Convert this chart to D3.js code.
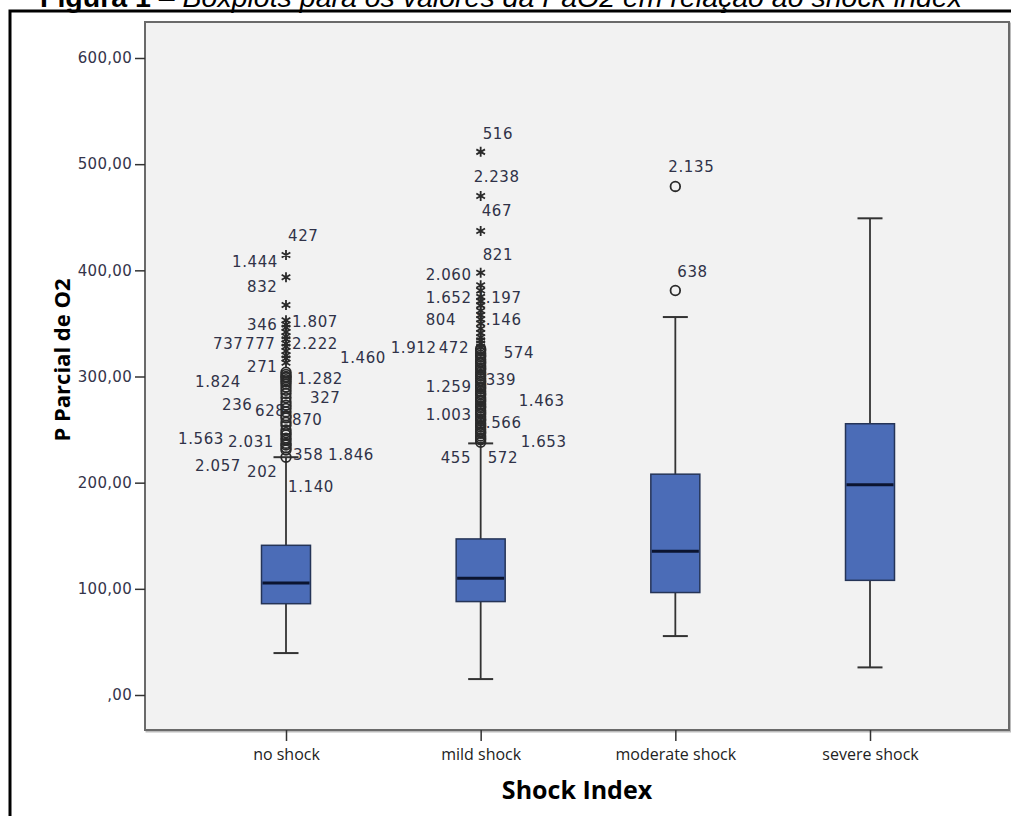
<!DOCTYPE html>
<html>
<head>
<meta charset="utf-8">
<script src="https://cdn.jsdelivr.net/npm/d3@7"></script>
<style>
  body { margin: 0; background: #fff; }
  svg { display: block; }
</style>
</head>
<body>
<div id="chart"></div>
<script>
// categories and box summaries (P Parcial de O2)
const categories = ["no shock", "mild shock", "moderate shock", "severe shock"];
const q1 = [86, 88, 96.5, 108];
const median = [105.5, 110, 135.5, 198];
const q3 = [141, 147, 208, 255.5];
const whiskerLow = [39.5, 15, 55.5, 26];
const whiskerHigh = [224, 237, 356, 449];

// outliers (circles) and extremes (stars)
const noShockCircles = [304, 302, 300, 299, 297, 295, 293, 290, 287, 284, 280, 276, 273, 270, 266.6, 263, 261, 257, 254, 249.6, 247, 245, 242, 240, 237, 235.5, 233, 230.8, 224];
const noShockStars = [414.4, 393.4, 367.3, 353, 349, 346, 342, 338, 335, 331, 328, 324, 320, 317, 313];
const mildCircles = [326, 324.5, 322, 320, 318.5, 316, 314, 312.5, 310, 308, 306.5, 304, 302, 300.5, 298, 296, 294.5, 292, 290, 288.5, 286, 284, 282.5, 280, 278, 276.5, 274, 272, 270.5, 268, 266, 264.5, 262, 260, 258.5, 256, 254, 252.5, 250, 248, 246.5, 244, 242, 240.5, 238];
const mildStars = [511.6, 470, 437, 397.8, 386, 381, 375, 371, 367, 362, 358, 354, 350, 345, 341, 337, 334, 331, 328];
const moderateCircles = [479, 381];

// case-number labels: [text, value]
const noShockLabels = [["427", 431.4], ["1.444", 407.8], ["832", 384.3], ["346", 347.6], ["1.807", 350.4],
  ["737", 329.7], ["777", 329.7], ["2.222", 330.6], ["1.460", 316.5], ["271", 308.9], ["1.824", 293.9],
  ["1.282", 297.6], ["327", 279.7], ["236", 273.1], ["628", 266.6], ["870", 258.1], ["1.563", 240.2],
  ["2.031", 237.4], ["358", 226], ["1.846", 226], ["2.057", 214.8], ["202", 210], ["1.140", 195.9]];
const mildLabels = [["516", 528.4], ["2.238", 487], ["467", 455], ["821", 414.4], ["2.060", 395.6],
  ["1.652", 373.9], ["1.197", 373.9], ["804", 353.2], ["1.146", 353.2], ["1.912", 326.8], ["472", 326.8],
  ["574", 322.1], ["1.259", 290.1], ["339", 296.7], ["1.463", 276.9], ["1.003", 263.7], ["1.566", 256.2],
  ["1.653", 237.4], ["455", 223.2], ["572", 223.2]];
const moderateLabels = [["2.135", 496.8], ["638", 397.6]];

const yTicks = [0, 100, 200, 300, 400, 500, 600];

// horizontal offsets of the labels from their box centre (px)
const noShockDx = [2, -54, -39, -39, 6, -73, -41, 6, 54, -39, -91, 11, 24, -64, -31, 6, -108, -58, 7, 42, -91, -39, 2];
const mildDx = [2, -7, 1, 2, -55, -55, -5, -55, -5, -90, -42, 23, -55, 5, 38, -55, -5, 40, -40, 7];
const moderateDx = [-7, 2];

const W = 1011, H = 816;
const plot = { left: 145, top: 22, right: 1009, bottom: 730 };

const svg = d3.select('#chart').append('svg')
    .attr('width', W)
    .attr('height', H);

// title (cut at the top edge of the picture, as in the source)
const title = svg.append('text')
    .attr('x', 40)
    .attr('y', 7)
    .style('font-family', '"Liberation Sans", Arial, sans-serif')
    .style('font-size', '28.5px')
    .style('fill', '#000');
title.append('tspan').style('font-weight', 'bold').text('Figura 1');
title.append('tspan').text(' – ');
title.append('tspan').style('font-style', 'italic').text('Boxplots para os valores da PaO2 em relação ao shock index');

// outer frame
svg.append('path')
    .attr('d', `M10,${H} V11 H${W}`)
    .attr('fill', 'none')
    .attr('stroke', '#000')
    .attr('stroke-width', 3);

// plot area
svg.append('rect')
    .attr('x', plot.left + 1.5)
    .attr('y', plot.top + 1.5)
    .attr('width', plot.right - plot.left)
    .attr('height', plot.bottom - plot.top)
    .attr('fill', 'none')
    .attr('stroke', '#bbb')
    .attr('stroke-width', 2);
svg.append('rect')
    .attr('x', plot.left)
    .attr('y', plot.top)
    .attr('width', plot.right - plot.left)
    .attr('height', plot.bottom - plot.top)
    .attr('fill', '#f2f2f2')
    .attr('stroke', '#6a6a6a')
    .attr('stroke-width', 2);

const y = d3.scaleLinear().domain([0, 600]).range([695, 58]);
const x = d3.scalePoint().domain(categories).range([286, 870]);

const boxW = 49, capW = 25;

// y axis
const yAxis = svg.append('g')
    .attr('transform', `translate(${plot.left},0)`)
    .call(d3.axisLeft(y).tickValues(yTicks).tickSize(10).tickPadding(3)
        .tickFormat(d => d === 0 ? ',00' : d + ',00'));
yAxis.select('.domain').remove();
yAxis.selectAll('line').attr('stroke', '#333').attr('stroke-width', 1.5);
yAxis.selectAll('text')
    .style('font-family', '"DejaVu Sans", Verdana, sans-serif')
    .style('font-size', '15px')
    .style('letter-spacing', '0.3px')
    .style('fill', '#34344a');

// x axis
const xAxis = svg.append('g')
    .attr('transform', `translate(0,${plot.bottom})`)
    .call(d3.axisBottom(x).tickSize(11).tickPadding(8));
xAxis.select('.domain').remove();
xAxis.selectAll('line').attr('stroke', '#333').attr('stroke-width', 1.5);
xAxis.selectAll('text')
    .style('font-family', '"Open Sans", sans-serif')
    .style('font-size', '16px')
    .style('fill', '#222');

// axis titles
svg.append('text')
    .attr('transform', `translate(64,${360}) rotate(-90)`)
    .attr('text-anchor', 'middle')
    .attr('dominant-baseline', 'middle')
    .style('font-family', '"Open Sans", sans-serif')
    .style('font-weight', 'bold')
    .style('font-size', '22px')
    .text('P Parcial de O2');

svg.append('text')
    .attr('x', (plot.left + plot.right) / 2)
    .attr('y', 799)
    .attr('text-anchor', 'middle')
    .style('font-family', '"Open Sans", sans-serif')
    .style('font-weight', 'bold')
    .style('font-size', '25px')
    .text('Shock Index');

// boxes
const boxes = svg.append('g');
categories.forEach((c, i) => {
    const cx = x(c);
    boxes.append('line')
        .attr('x1', cx).attr('x2', cx)
        .attr('y1', y(whiskerLow[i])).attr('y2', y(whiskerHigh[i]))
        .attr('stroke', '#333').attr('stroke-width', 1.8);
    [whiskerLow[i], whiskerHigh[i]].forEach(v => {
        boxes.append('line')
            .attr('x1', cx - capW / 2).attr('x2', cx + capW / 2)
            .attr('y1', y(v)).attr('y2', y(v))
            .attr('stroke', '#333').attr('stroke-width', 2);
    });
    boxes.append('rect')
        .attr('x', cx - boxW / 2)
        .attr('y', y(q3[i]))
        .attr('width', boxW)
        .attr('height', y(q1[i]) - y(q3[i]))
        .attr('fill', '#4b6cb7')
        .attr('stroke', '#253457')
        .attr('stroke-width', 1.5);
    boxes.append('line')
        .attr('x1', cx - boxW / 2 + 1).attr('x2', cx + boxW / 2 - 1)
        .attr('y1', y(median[i])).attr('y2', y(median[i]))
        .attr('stroke', '#0b1430').attr('stroke-width', 3);
});

// labels (drawn under the markers)
function drawLabels(labels, dx, cat) {
    svg.append('g').selectAll('text')
        .data(labels)
        .enter().append('text')
        .attr('x', (d, i) => x(cat) + dx[i])
        .attr('y', d => y(d[1]))
        .attr('dominant-baseline', 'middle')
        .style('font-family', '"DejaVu Sans", Verdana, sans-serif')
        .style('font-size', '15px')
        .style('letter-spacing', '0.6px')
        .style('fill', '#303248')
        .text(d => d[0]);
}
drawLabels(noShockLabels, noShockDx, 'no shock');
drawLabels(mildLabels, mildDx, 'mild shock');
drawLabels(moderateLabels, moderateDx, 'moderate shock');

// markers
function drawCircles(values, cat) {
    svg.append('g').selectAll('circle')
        .data(values)
        .enter().append('circle')
        .attr('cx', x(cat))
        .attr('cy', d => y(d))
        .attr('r', 4.8)
        .attr('fill', 'none')
        .attr('stroke', '#2a2a2a')
        .attr('stroke-width', 1.8);
}
function drawStars(values, cat) {
    svg.append('g').selectAll('path')
        .data(values)
        .enter().append('path')
        .attr('transform', d => `translate(${x(cat)},${y(d)})`)
        .attr('d', d3.symbol().type(d3.symbolAsterisk).size(70))
        .attr('fill', 'none')
        .attr('stroke', '#2a2a2a')
        .attr('stroke-width', 1.8);
}
drawCircles(noShockCircles, 'no shock');
drawStars(noShockStars, 'no shock');
drawCircles(mildCircles, 'mild shock');
drawStars(mildStars, 'mild shock');
drawCircles(moderateCircles, 'moderate shock');
</script>
</body>
</html>
